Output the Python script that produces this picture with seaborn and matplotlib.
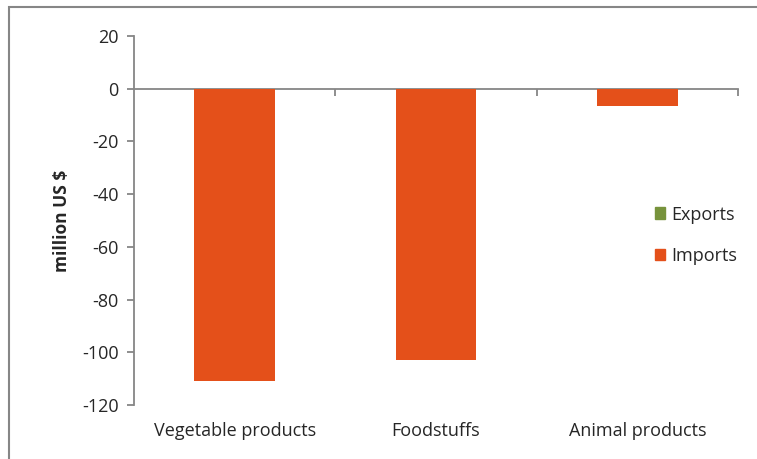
import pandas as pd
import matplotlib.pyplot as plt
import seaborn as sns
from matplotlib.patches import Rectangle

categories = ["Vegetable products", "Foodstuffs", "Animal products"]
exports = [0, 0, 0]
imports = [-111, -103, -6.7]
series = ["Exports", "Imports"]
colors = ["#77933C", "#E4501A"]
yticks = [20, 0, -20, -40, -60, -80, -100, -120]

df = pd.DataFrame({
    "category": categories * 2,
    "type": ["Exports"] * 3 + ["Imports"] * 3,
    "value": exports + imports,
})

sns.set_style("white")
plt.rcParams["font.family"] = ["Open Sans", "DejaVu Sans"]
plt.rcParams["axes.unicode_minus"] = False
axis_gray = "#868686"
text_col = "#262626"

fig = plt.figure(figsize=(7.57, 4.59), dpi=100)
ax = fig.add_axes([134 / 757, 1 - 405 / 459, 604 / 757, 369 / 459])

sns.barplot(data=df, x="category", y="value", hue="type", hue_order=series,
            palette=colors, dodge=False, width=0.4, ax=ax, legend=False,
            saturation=1, linewidth=0)

ax.set_ylim(-120, 20)
ax.set_xlim(-0.5, 2.5)
ax.set_yticks(yticks)
ax.set_ylabel("million US $", fontsize=12.5, fontweight="bold", color=text_col, labelpad=8)
ax.set_xlabel("")

for s in ["top", "right", "bottom"]:
    ax.spines[s].set_visible(False)
ax.spines["left"].set_color(axis_gray)
ax.spines["left"].set_linewidth(1.3)
ax.tick_params(axis="y", direction="out", length=5, width=1.3, color=axis_gray,
               labelsize=13, labelcolor=text_col, pad=6, left=True)
ax.tick_params(axis="x", length=0, labelsize=13, labelcolor=text_col, pad=12)

# category axis crossing at zero
sec = ax.secondary_xaxis(0, transform=ax.transData)
sec.set_xticks([0.5, 1.5, 2.5])
sec.set_xticklabels([])
sec.tick_params(direction="out", length=5, width=1.3, color=axis_gray)
sec.spines["bottom"].set_color(axis_gray)
sec.spines["bottom"].set_linewidth(1.3)

handles = [Rectangle((0, 0), 1, 1, color=c) for c in colors]
ax.legend(handles, series, loc="center left", bbox_to_anchor=(0.835, 0.46),
          frameon=False, fontsize=13, handlelength=0.6, handleheight=0.6,
          handletextpad=0.35, labelspacing=1.3, labelcolor=text_col)

fig.patches.append(Rectangle((9 / 757, -0.1), 1.2, 1.1 - 7 / 459, transform=fig.transFigure,
                             fill=False, edgecolor=axis_gray, linewidth=1.5))

fig.savefig("out.png", dpi=100)
